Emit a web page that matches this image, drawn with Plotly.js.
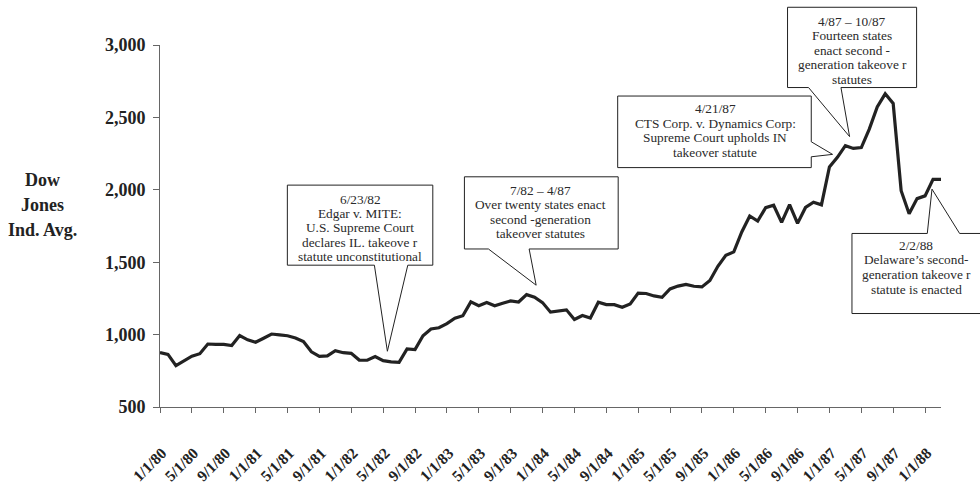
<!DOCTYPE html>
<html>
<head>
<meta charset="utf-8">
<script src="https://cdn.plot.ly/plotly-3.0.1.min.js"></script>
<style>html,body{margin:0;padding:0;background:#fff;}#chart{width:980px;height:490px;}</style>
</head>
<body>
<div id="chart"></div>
<script>
// Dow Jones Industrial Average, monthly, Jan 1980 - Mar 1988
const dj1980 = [876, 863, 786, 817, 851, 868, 935, 933, 932, 924, 993, 964];
const dj1981 = [947, 975, 1004, 998, 992, 977, 952, 881, 850, 853, 889, 875];
const dj1982 = [871, 824, 823, 848, 820, 812, 809, 901, 896, 992, 1039, 1047];
const dj1983 = [1076, 1113, 1130, 1226, 1200, 1222, 1199, 1216, 1233, 1225, 1276, 1259];
const dj1984 = [1221, 1155, 1165, 1171, 1105, 1132, 1115, 1224, 1207, 1207, 1189, 1212];
const dj1985 = [1287, 1284, 1267, 1258, 1315, 1335, 1347, 1334, 1329, 1374, 1472, 1547];
const dj1986 = [1571, 1709, 1819, 1784, 1877, 1893, 1775, 1898, 1768, 1878, 1914, 1896];
const dj1987 = [2158, 2224, 2305, 2286, 2292, 2419, 2572, 2663, 2596, 1994, 1834, 1939];
const dj1988 = [1958, 2072, 2072];

const tickLabels = ["1/1/80","5/1/80","9/1/80","1/1/81","5/1/81","9/1/81","1/1/82","5/1/82","9/1/82",
  "1/1/83","5/1/83","9/1/83","1/1/84","5/1/84","9/1/84","1/1/85","5/1/85","9/1/85",
  "1/1/86","5/1/86","9/1/86","1/1/87","5/1/87","9/1/87","1/1/88"];
const yTitleLines = ["Dow", "Jones", "Ind. Avg."];

const callouts = [
  {lines: ["6/23/82", "Edgar v. MITE:", "U.S. Supreme Court", "declares IL. takeove r", "statute unconstitutional"]},
  {lines: ["7/82 \u2013 4/87", "Over twenty states enact", "second -generation", "takeover statutes"]},
  {lines: ["4/21/87", "CTS Corp. v. Dynamics Corp:", "Supreme Court upholds IN", "takeover statute"]},
  {lines: ["4/87 \u2013 10/87", "Fourteen states", "enact second -", "generation takeove r", "statutes"]},
  {lines: ["2/2/88", "Delaware\u2019s second-", "generation takeove r", "statute is enacted"]}
];

const values = [].concat(dj1980, dj1981, dj1982, dj1983, dj1984, dj1985, dj1986, dj1987, dj1988);
const xIdx = values.map((v, i) => i);
const tickVals = tickLabels.map((t, i) => i * 4);

// layout geometry (pixels)
const W = 980, H = 490, ML = 160, MR = 39.3, MT = 45, MB = 83.3;
const PW = W - ML - MR, PH = H - MT - MB;
const px = x => (x - ML) / PW;
const py = y => (H - MB - y) / PH;
const P = (x, y) => px(x).toFixed(5) + ',' + py(y).toFixed(5);

// callout geometry in pixels
const geo = [
  {L: 287.3, T: 185, R: 432.7, B: 265, side: 'bottom', b1: 374.3, b2: 407.7, tip: [387.3, 351], cx: 360, y0: 199, dy: 14.4},
  {L: 464.3, T: 176.7, R: 618, B: 248.8, side: 'bottom', b1: 488.3, b2: 529, tip: [536, 285], cx: 540, y0: 190, dy: 14.5},
  {L: 617.5, T: 96, R: 811, B: 167.5, side: 'right', b1: 141.7, b2: 156.7, tip: [832.3, 154.3], cx: 715, y0: 108.5, dy: 14.5},
  {L: 787.3, T: 7.3, R: 916.3, B: 87.5, side: 'bottom', b1: 808.3, b2: 840.7, tip: [849.3, 136.5], cx: 852, y0: 21.5, dy: 14.4},
  {L: 851.7, T: 233.3, R: 990, B: 313.3, side: 'top', b1: 927, b2: 959.3, tip: [931.7, 189], cx: 916, y0: 245, dy: 14.6}
];

const shapes = [];
const annotations = [];
geo.forEach((g, k) => {
  let d;
  if (g.side === 'bottom') {
    d = 'M' + P(g.L, g.T) + 'L' + P(g.R, g.T) + 'L' + P(g.R, g.B) + 'L' + P(g.b2, g.B) +
        'L' + P(g.tip[0], g.tip[1]) + 'L' + P(g.b1, g.B) + 'L' + P(g.L, g.B) + 'Z';
  } else if (g.side === 'right') {
    d = 'M' + P(g.L, g.T) + 'L' + P(g.R, g.T) + 'L' + P(g.R, g.b1) + 'L' + P(g.tip[0], g.tip[1]) +
        'L' + P(g.R, g.b2) + 'L' + P(g.R, g.B) + 'L' + P(g.L, g.B) + 'Z';
  } else {
    d = 'M' + P(g.L, g.T) + 'L' + P(g.b1, g.T) + 'L' + P(g.tip[0], g.tip[1]) + 'L' + P(g.b2, g.T) +
        'L' + P(g.R, g.T) + 'L' + P(g.R, g.B) + 'L' + P(g.L, g.B) + 'Z';
  }
  shapes.push({type: 'path', xref: 'paper', yref: 'paper', path: d, fillcolor: '#ffffff',
    line: {color: '#222222', width: 1}, layer: 'above'});
  callouts[k].lines.forEach((t, j) => {
    annotations.push({xref: 'paper', yref: 'paper', x: px(g.cx), y: py(g.y0 + j * g.dy),
      xanchor: 'center', yanchor: 'middle', text: t, showarrow: false,
      font: {family: 'Liberation Serif, Times New Roman, serif', size: 13.3, color: '#2a2a2a'}});
  });
});

const yTitleY = [180, 205, 229.5];
yTitleLines.forEach((t, j) => {
  annotations.push({xref: 'paper', yref: 'paper', x: px(43), y: py(yTitleY[j]),
    xanchor: 'center', yanchor: 'middle', text: '<b>' + t + '</b>', showarrow: false,
    font: {family: 'Liberation Serif, Times New Roman, serif', size: 18, color: '#222222'}});
});

const trace = {
  x: xIdx, y: values, type: 'scatter', mode: 'lines',
  line: {color: '#222222', width: 3.2}, hoverinfo: 'skip'
};

const layout = {
  width: W, height: H,
  margin: {l: ML, r: MR, t: MT, b: MB, pad: 0},
  paper_bgcolor: '#ffffff', plot_bgcolor: '#ffffff',
  showlegend: false,
  xaxis: {
    range: [0, 98], tickvals: tickVals, ticktext: tickLabels.map(t => '<b>' + t + '</b>'),
    tickangle: -45, ticks: 'outside', ticklen: 5, tickwidth: 1, tickcolor: '#666666',
    showline: true, linecolor: '#666666', linewidth: 1, showgrid: false, zeroline: false,
    tickfont: {family: 'Liberation Serif, Times New Roman, serif', size: 15.5, color: '#222222'},
    ticklabelstandoff: 25, ticklabelshift: 2, fixedrange: true
  },
  yaxis: {
    range: [500, 3000], tickvals: [500, 1000, 1500, 2000, 2500, 3000], tickformat: ',d',
    ticks: 'outside', ticklen: 6, tickwidth: 1, tickcolor: '#666666',
    showline: true, linecolor: '#666666', linewidth: 1, showgrid: false, zeroline: false,
    tickfont: {family: 'Liberation Serif, Times New Roman, serif', size: 18, color: '#222222', weight: 'bold'},
    ticklabelstandoff: 4, fixedrange: true
  },
  shapes: shapes,
  annotations: annotations
};

Plotly.newPlot('chart', [trace], layout, {displayModeBar: false, staticPlot: true});
</script>
</body>
</html>
